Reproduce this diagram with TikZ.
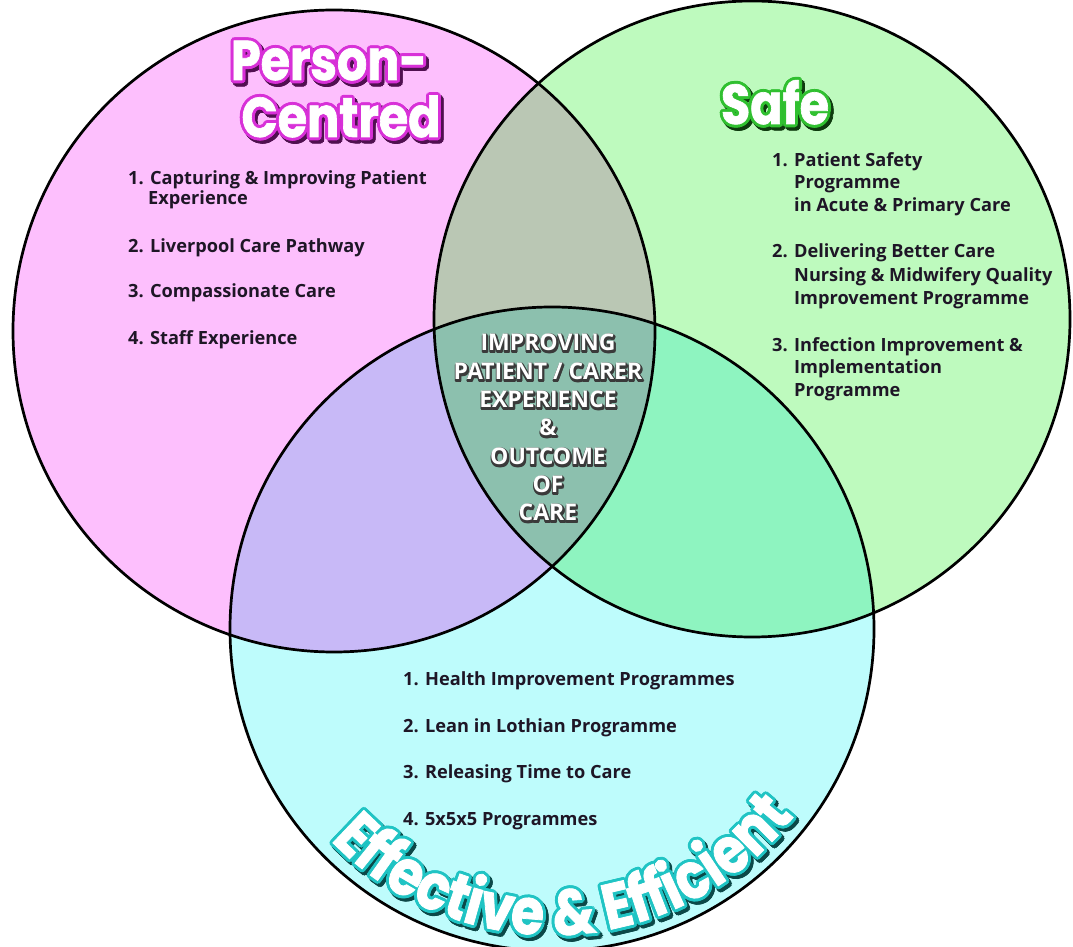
\documentclass[tikz,border=0pt]{standalone}
\usepackage{fontspec}
\setmainfont{Open Sans}
\newfontfamily\titlefont{Poppins}[FakeStretch=0.85, FakeBold=1.2]
\newfontfamily\arcfont{Poppins}[FakeStretch=0.84, FakeBold=1.2]
\usetikzlibrary{calc,decorations.text}
\definecolor{pinkc}{HTML}{FDBFFD}
\definecolor{greenc}{HTML}{BEFABE}
\definecolor{cyanc}{HTML}{BEFCFC}
\definecolor{lrc}{HTML}{BAC7B4}
\definecolor{lbc}{HTML}{C8B9F7}
\definecolor{rbc}{HTML}{8EF4C0}
\definecolor{midc}{HTML}{8CC0AE}
\definecolor{bodyc}{HTML}{1E1626}
\definecolor{pinkline}{HTML}{D830D8}
\definecolor{pinkshadow}{HTML}{501050}
\definecolor{greenline}{HTML}{30C030}
\definecolor{greenshadow}{HTML}{0E3A0E}
\definecolor{cyanline}{HTML}{20C4C4}
\definecolor{cyanshadow}{HTML}{0C4848}
\definecolor{coreshadow}{HTML}{3A3A3A}
\tikzset{
  ring/.style={draw=black, line width=2.7pt},
  body/.style={font=\bfseries\fontsize{18.2}{20}\selectfont, text=bodyc, anchor=base west, inner sep=0pt},
  core/.style={font=\bfseries\fontsize{23}{26}\selectfont, anchor=base, inner sep=0pt},
  titlenode/.style={font=\titlefont\bfseries\fontsize{#1}{#1}\selectfont, anchor=base, inner sep=0pt},
}
\newcommand\fancytitle[6]{%
  \foreach \a in {0,30,...,330}{\node[titlenode=#3, text=#5] (#1s\a) at ($(#2)+(\a:3.2)+(2.5,-3)$) {#6};}
  \foreach \a in {0,30,...,330}{\node[titlenode=#3, text=#4] (#1o\a) at ($(#2)+(\a:3.0)$) {#6};}
  \node[titlenode=#3, text=white] (#1) at (#2) {#6};
}
\newcommand\coreline[3]{%
  \foreach \a in {0,45,...,315}{\node[core, text=coreshadow] (#1s\a) at ($(#2)+(\a:1.5)+(0.8,-1.2)$) {#3};}
  \node[core, text=white] (#1) at (#2) {#3};
}
\newcommand\arcword{|\arcfont\bfseries\fontsize{64}{64}\selectfont|Effective {\&} Efficient}
\begin{document}
\begin{tikzpicture}[x=1pt,y=1pt]
\useasboundingbox (0,0) rectangle (1073,946);
\fill[white] (0,0) rectangle (1073,946);
\coordinate (L) at (334,615);
\coordinate (R) at (752,627);
\coordinate (B) at (552,317);
% fills
\fill[pinkc] (L) circle[radius=321];
\fill[greenc] (R) circle[radius=318];
\fill[cyanc] (B) circle[radius=322];
\begin{scope}
  \clip (R) circle[radius=318];
  \fill[rbc] (B) circle[radius=322];
\end{scope}
\begin{scope}
  \clip (L) circle[radius=321];
  \fill[lrc] (R) circle[radius=318];
  \fill[lbc] (B) circle[radius=322];
  \clip (R) circle[radius=318];
  \fill[midc] (B) circle[radius=322];
\end{scope}
% outlines
\draw[ring] (L) circle[radius=321];
\draw[ring] (R) circle[radius=318];
\draw[ring] (B) circle[radius=322];
% titles
\fancytitle{tp}{329,866}{56}{pinkline}{pinkshadow}{Person-}
\fancytitle{tc}{341,809}{56}{pinkline}{pinkshadow}{Centred}
\fancytitle{ts}{775,822}{56}{greenline}{greenshadow}{Safe}
% arc title
\foreach \a in {0,30,...,330}{
  \path[decorate, decoration={text along path, text color=cyanshadow, text align=center, text/.expand once=\arcword}]
    (B) ++(\a:3.2) ++(2.5,-3) ++(217:306) arc[start angle=217, end angle=329, radius=306];
}
\foreach \a in {0,30,...,330}{
  \path[decorate, decoration={text along path, text color=cyanline, text align=center, text/.expand once=\arcword}]
    (B) ++(\a:3.0) ++(217:306) arc[start angle=217, end angle=329, radius=306];
}
\path[decorate, decoration={text along path, text color=white, text align=center, text/.expand once=\arcword}]
    (B) ++(217:306) arc[start angle=217, end angle=329, radius=306];
% left list
\node[body] (l1) at (128,761) {1. Capturing \& Improving Patient};
\node[body] (l1b) at (148,741) {Experience};
\node[body] (l2) at (128,693) {2. Liverpool Care Pathway};
\node[body] (l3) at (128,648) {3. Compassionate Care};
\node[body] (l4) at (128,601) {4. Staff Experience};
% right list
\node[body] (r1) at (772,779) {1. Patient Safety};
\node[body] (r1b) at (794,757) {Programme};
\node[body] (r1c) at (794,734) {in Acute \& Primary Care};
\node[body] (r2) at (772,688) {2. Delivering Better Care};
\node[body] (r2b) at (794,664) {Nursing \& Midwifery Quality};
\node[body] (r2c) at (794,641) {Improvement Programme};
\node[body] (r3) at (772,594) {3. Infection Improvement \&};
\node[body] (r3b) at (794,572) {Implementation};
\node[body] (r3c) at (794,549) {Programme};
% bottom list
\node[body] (b1) at (403,261) {1. Health Improvement Programmes};
\node[body] (b2) at (403,214) {2. Lean in Lothian Programme};
\node[body] (b3) at (403,168) {3. Releasing Time to Care};
\node[body] (b4) at (403,121) {4. 5x5x5 Programmes};
% centre
\coreline{c1}{548,595}{IMPROVING}
\coreline{c2}{548,566}{PATIENT / CARER}
\coreline{c3}{548,538}{EXPERIENCE}
\coreline{c4}{548,510}{\&}
\coreline{c5}{548,481}{OUTCOME}
\coreline{c6}{548,453}{OF}
\coreline{c7}{548,425}{CARE}
\end{tikzpicture}
\end{document}
